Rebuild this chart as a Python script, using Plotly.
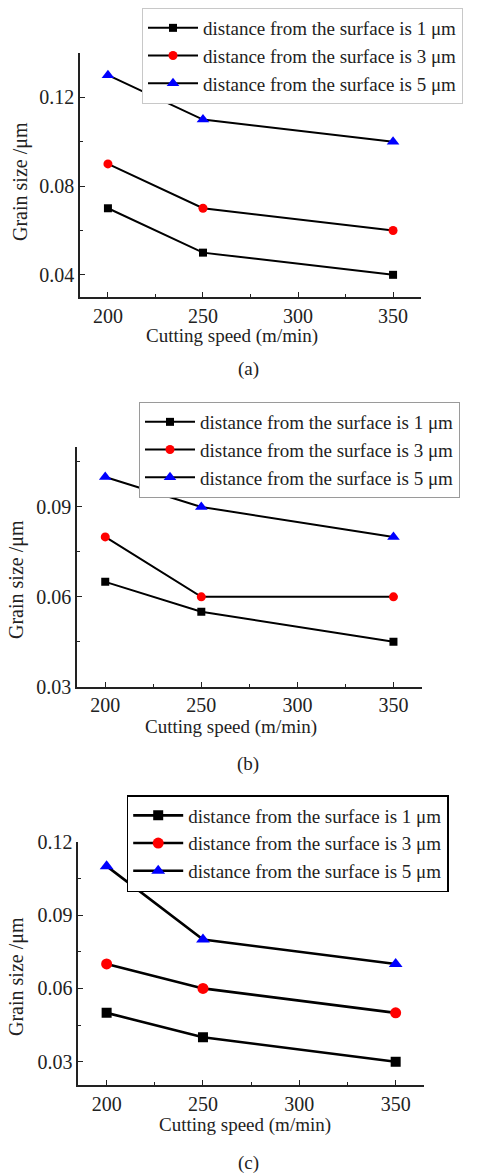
import plotly.graph_objects as go

speeds = [200, 250, 350]
series_names = ["distance from the surface is 1 μm",
                "distance from the surface is 3 μm",
                "distance from the surface is 5 μm"]

a_1um = [0.07, 0.05, 0.04]
a_3um = [0.09, 0.07, 0.06]
a_5um = [0.13, 0.11, 0.10]

b_1um = [0.065, 0.055, 0.045]
b_3um = [0.08, 0.06, 0.06]
b_5um = [0.10, 0.09, 0.08]

c_1um = [0.05, 0.04, 0.03]
c_3um = [0.07, 0.06, 0.05]
c_5um = [0.11, 0.08, 0.07]

x_ticks = [200, 250, 300, 350]
a_yticks = [0.04, 0.08, 0.12]
b_yticks = [0.03, 0.06, 0.09]
c_yticks = [0.03, 0.06, 0.09, 0.12]

captions = ["(a)", "(b)", "(c)"]
x_title = "Cutting speed (m/min)"
y_title = "Grain size /μm"

W, H = 487, 1176
FONT = "Liberation Serif"
colors = ["#000000", "#ff0000", "#0000ff"]
symbols = ["square", "circle", "triangle-up"]

fig = go.Figure()

panels = [
    dict(data=[a_1um, a_3um, a_5um], xdom=(80, 421), ydom=(53, 297), yr=[0.03, 0.14],
         yt=a_yticks, ydt=0.02, leg=(142, 8), lw=2, ms=[8, 9, 11], border="#c8c8c8", bw=1,
         xt=(232, 336), yt_pos=(20, 182), cap=(248, 369)),
    dict(data=[b_1um, b_3um, b_5um], xdom=(77, 421.7), ydom=(447, 686.7), yr=[0.03, 0.11],
         yt=b_yticks, ydt=0.015, leg=(139, 402), lw=2, ms=[8, 9, 11], border="#9a9a9a", bw=1,
         xt=(231, 727), yt_pos=(16, 580), cap=(248, 764)),
    dict(data=[c_1um, c_3um, c_5um], xdom=(78.3, 424), ydom=(841.7, 1085), yr=[0.0205, 0.12],
         yt=c_yticks, ydt=0.015, leg=(126.7, 795), lw=2.6, ms=[10, 11, 12], border="#000000", bw=1.5,
         xt=(245, 1125), yt_pos=(17, 977), cap=(248, 1163)),
]

annotations = []
for i, p in enumerate(panels):
    n = "" if i == 0 else str(i + 1)
    legname = "legend" + n
    for j in range(3):
        fig.add_trace(go.Scatter(
            x=speeds, y=p["data"][j], name=series_names[j], mode="lines+markers",
            line=dict(color="#000000", width=p["lw"]),
            marker=dict(symbol=symbols[j], color=colors[j], size=p["ms"][j]),
            xaxis="x" + n, yaxis="y" + n, legend=legname,
        ))
    xd = [p["xdom"][0] / W, p["xdom"][1] / W]
    yd = [1 - p["ydom"][1] / H, 1 - p["ydom"][0] / H]
    axcommon = dict(showline=True, linecolor="#222", linewidth=1.5, ticks="inside",
                    ticklen=5, tickwidth=1.2, tickcolor="#222", showgrid=False, zeroline=False,
                    tickfont=dict(family=FONT, size=20, color="#222"), mirror=False,
                    automargin=False)
    fig.layout["xaxis" + n] = dict(domain=xd, range=[185.3, 364.7], tickvals=x_ticks,
                                   minor=dict(dtick=25, tick0=200, ticks="inside", ticklen=3,
                                              tickcolor="#222", tickwidth=1),
                                   anchor="y" + n, **axcommon)
    fig.layout["yaxis" + n] = dict(domain=yd, range=p["yr"], tickvals=p["yt"], tickformat=".2f",
                                   minor=dict(dtick=p["ydt"], tick0=p["yt"][0], ticks="inside", ticklen=3,
                                              tickcolor="#222", tickwidth=1),
                                   anchor="x" + n, **axcommon)
    fig.layout[legname] = dict(x=p["leg"][0] / W, y=1 - p["leg"][1] / H, xanchor="left", yanchor="top",
                               bgcolor="white", bordercolor=p["border"], borderwidth=p["bw"],
                               font=dict(family=FONT, size=19, color="#222"),
                               itemwidth=50, tracegroupgap=0)
    annotations.append(dict(text=x_title, x=p["xt"][0] / W, y=1 - p["xt"][1] / H, xref="paper",
                            yref="paper", showarrow=False, xanchor="center", yanchor="middle",
                            font=dict(family=FONT, size=19, color="#222")))
    annotations.append(dict(text=y_title, x=p["yt_pos"][0] / W, y=1 - p["yt_pos"][1] / H, xref="paper",
                            yref="paper", showarrow=False, xanchor="center", yanchor="middle",
                            textangle=-90, font=dict(family=FONT, size=20, color="#222")))
    annotations.append(dict(text=captions[i], x=p["cap"][0] / W, y=1 - p["cap"][1] / H, xref="paper",
                            yref="paper", showarrow=False, xanchor="center", yanchor="middle",
                            font=dict(family=FONT, size=19, color="#222")))

fig.update_layout(width=W, height=H,
                  margin=dict(l=0, r=0, t=0, b=0, pad=0, autoexpand=False),
                  paper_bgcolor="white", plot_bgcolor="white", annotations=annotations,
                  showlegend=True)

fig.write_html("out.html", config={"displayModeBar": False},
               post_script="document.body.style.margin='0px';")
